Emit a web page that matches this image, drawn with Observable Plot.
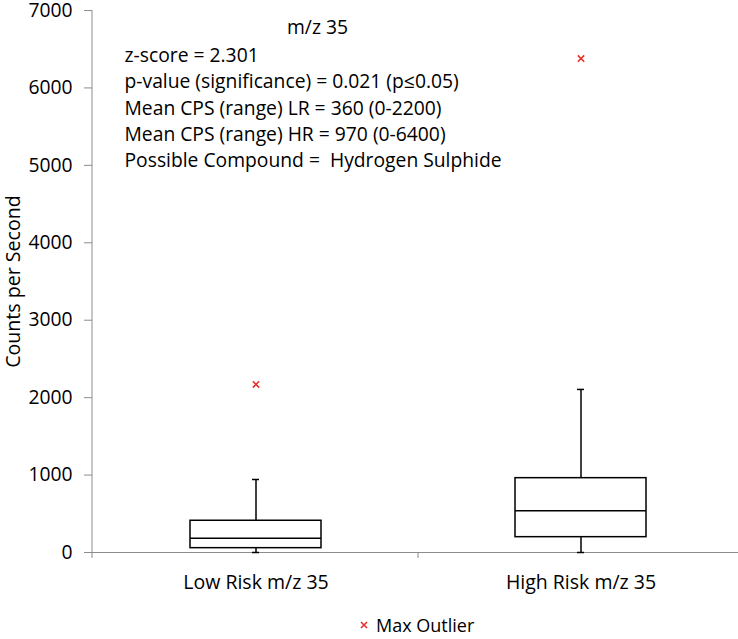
<!DOCTYPE html>
<html>
<head>
<meta charset="utf-8">
<script src="https://cdn.jsdelivr.net/npm/d3@7"></script>
<script src="https://cdn.jsdelivr.net/npm/@observablehq/plot@0.6"></script>
<style>
  html, body { margin: 0; padding: 0; background: white; }
  body { font-family: "Open Sans", sans-serif; width: 738px; }
  #legend { height: 29px; display: flex; align-items: center; font-size: 18px; color: black; padding-left: 359px; box-sizing: border-box; }
  #legend svg { margin-right: 7px; }
</style>
</head>
<body>
<div id="chart"></div>
<div id="legend"></div>
<script>
// ---- data ----
const categories = ["Low Risk m/z 35", "High Risk m/z 35"];
const minWhisker = [0, 0];
const q1 = [56, 198];
const median = [185, 539];
const q3 = [410, 960];
const maxWhisker = [943, 2106];
const maxOutlier = [2170, 6380];
const yTicks = [0, 1000, 2000, 3000, 4000, 5000, 6000, 7000];
const title = "m/z 35";
const statLines = [
  "z-score = 2.301",
  "p-value (significance) = 0.021 (p\u22640.05)",
  "Mean CPS (range) LR = 360 (0-2200)",
  "Mean CPS (range) HR = 970 (0-6400)",
  "Possible Compound =  Hydrogen Sulphide"
];
const yLabel = "Counts per Second";
const legendLabel = "Max Outlier";

const rows = categories.map((c, i) => ({
  cat: c, lo: minWhisker[i], q1: q1[i], med: median[i], q3: q3[i], hi: maxWhisker[i], out: maxOutlier[i]
}));

const W = 738, H = 610, ML = 92, MT = 10, MB = 58;
const bandInset = 97;
const capInset = 159;
const red = "#e8302c";
const axisGrey = "#8c8c8c";
const FONT = "'Open Sans', sans-serif";

// custom mark: y-axis line (slightly extended below the baseline) and category boundary ticks
function frameLines(index, scales, values, dims) {
  const g = d3.create("svg:g");
  const x0 = dims.marginLeft;
  const yBottom = dims.height - dims.marginBottom;
  g.append("line").attr("x1", x0).attr("x2", x0).attr("y1", dims.marginTop).attr("y2", yBottom + 6)
    .attr("stroke", axisGrey);
  for (const c of categories.slice(1)) {
    const xb = scales.x(c);
    g.append("line").attr("x1", xb).attr("x2", xb).attr("y1", yBottom).attr("y2", yBottom + 6)
      .attr("stroke", axisGrey);
  }
  return g.node();
}

const chart = Plot.plot({
  width: W,
  height: H,
  marginLeft: ML,
  marginRight: 0,
  marginTop: MT,
  marginBottom: MB,
  style: { fontFamily: FONT, background: "white", color: "black" },
  x: { type: "band", domain: categories, range: [ML, 743], padding: 0 },
  y: { domain: [0, 7000] },
  marks: [
    Plot.ruleY([0], { stroke: axisGrey }),
    frameLines,
    Plot.axisY(yTicks, { tickSize: 8, tickPadding: 12, stroke: axisGrey, fill: "black", fontSize: 19.3, tickFormat: d => String(d), label: null }),
    Plot.axisX({ tickSize: 0, tickPadding: 23, fill: "black", fontSize: 19.5, label: null }),
    // whiskers
    Plot.ruleX(rows, { x: "cat", y1: "q3", y2: "hi", stroke: "black", strokeWidth: 1.5 }),
    Plot.ruleX(rows, { x: "cat", y1: "lo", y2: "q1", stroke: "black", strokeWidth: 1.5 }),
    Plot.tickY(rows, { x: "cat", y: "hi", stroke: "black", strokeWidth: 1.5, insetLeft: capInset, insetRight: capInset }),
    Plot.tickY(rows, { x: "cat", y: "lo", stroke: "black", strokeWidth: 1.5, insetLeft: capInset, insetRight: capInset }),
    // boxes
    Plot.rectY(rows, { x: "cat", y1: "q1", y2: "q3", fill: "white", stroke: "black", strokeWidth: 1.5, insetLeft: bandInset, insetRight: bandInset }),
    Plot.tickY(rows, { x: "cat", y: "med", stroke: "black", strokeWidth: 1.5, insetLeft: bandInset, insetRight: bandInset }),
    // outliers
    Plot.dot(rows, { x: "cat", y: "out", symbol: "times", r: 3, stroke: red, strokeWidth: 1.6 }),
    // annotations
    Plot.text([title], { frameAnchor: "top-left", dx: 225, dy: 10, textAnchor: "middle", lineAnchor: "top", fontSize: 19.3, fill: "black" }),
    Plot.text([statLines.join("\n")], { frameAnchor: "top-left", dx: 32, dy: 33, textAnchor: "start", lineAnchor: "top", lineHeight: 1.36, fontSize: 19.3, fill: "black" }),
    Plot.text([yLabel], { frameAnchor: "left", dx: -79, rotate: -90, textAnchor: "middle", fontSize: 19.6, fill: "black" })
  ]
});
document.getElementById("chart").appendChild(chart);

// legend
const legend = document.getElementById("legend");
const sw = d3.create("svg").attr("width", 10).attr("height", 10);
sw.append("path").attr("d", "M2,2L8,8M8,2L2,8").attr("stroke", red).attr("stroke-width", 1.6);
legend.appendChild(sw.node());
const lt = document.createElement("span");
lt.textContent = legendLabel;
legend.appendChild(lt);
</script>
</body>
</html>
